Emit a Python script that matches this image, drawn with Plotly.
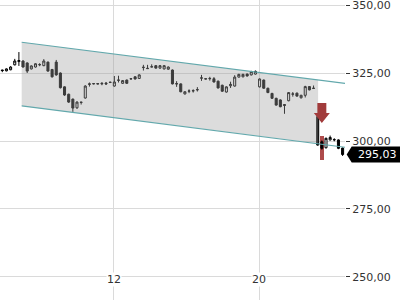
import plotly.graph_objects as go

# ---- data ----
opens = [326.1, 325.8, 326.2, 328.0, 329.2, 329.4, 328.7, 326.5, 327.2, 328.0,
         327.7, 329.0, 326.3, 329.0, 325.0, 319.9, 317.2, 315.4, 312.2, 314.3,
         315.8, 320.8, 321.0, 321.1, 321.0, 321.3, 321.5, 320.2, 322.3, 321.2,
         322.4, 322.8, 323.6, 323.0, 327.0, 326.6, 327.2, 327.7, 326.8, 326.5,
         326.4, 326.1, 321.1, 321.0, 317.3, 318.3, 318.4, 318.8, 323.1, 322.9,
         322.9, 322.9, 322.0, 320.5, 318.0, 320.3, 320.2, 323.5, 323.6, 324.6,
         324.3, 324.6, 319.9, 322.4, 319.4, 317.5, 315.7, 315.1, 313.4, 314.8,
         317.2, 317.6, 315.9, 316.8, 320.0, 319.3, 309.0, 299.7, 297.5, 300.4,
         300.4, 300.4, 297.4]
highs = [326.2, 326.7, 327.5, 330.2, 332.7, 329.7, 328.9, 327.8, 328.6, 328.6,
         330.1, 329.2, 326.5, 329.8, 325.2, 320.1, 317.4, 315.6, 314.6, 314.4,
         320.5, 321.5, 321.3, 321.3, 321.6, 321.7, 321.8, 323.9, 324.0, 322.4,
         322.6, 323.1, 323.8, 324.5, 328.0, 328.0, 328.2, 327.9, 327.9, 327.9,
         327.4, 326.3, 322.0, 321.2, 318.3, 319.0, 319.0, 319.8, 324.3, 323.0,
         323.6, 323.5, 322.2, 320.7, 320.1, 321.8, 324.2, 324.7, 324.7, 324.8,
         325.8, 325.9, 323.0, 322.6, 319.6, 317.7, 315.9, 315.3, 313.6, 318.0,
         318.0, 317.8, 317.0, 320.3, 320.2, 320.4, 309.6, 300.2, 301.2, 302.0,
         301.0, 300.6, 297.6]
lows = [325.3, 325.6, 326.0, 327.8, 327.6, 327.0, 325.0, 326.3, 327.0, 327.5,
        327.5, 325.5, 323.3, 324.0, 319.3, 316.6, 314.0, 310.7, 311.8, 313.4,
        315.6, 320.0, 320.8, 320.8, 320.5, 320.6, 321.3, 320.0, 321.5, 321.0,
        321.0, 322.6, 322.6, 322.8, 325.9, 326.5, 327.1, 326.6, 326.6, 326.3,
        326.2, 320.8, 319.9, 317.9, 317.1, 317.6, 317.8, 318.2, 322.1, 322.7,
        322.2, 321.5, 319.3, 318.1, 317.8, 319.5, 320.0, 323.3, 323.4, 323.7,
        324.1, 324.4, 319.7, 319.2, 317.6, 315.5, 313.0, 312.4, 310.0, 314.6,
        316.3, 316.3, 315.6, 316.0, 318.6, 319.2, 298.3, 296.8, 297.3, 300.2,
        299.9, 297.0, 294.5]
closes = [325.9, 326.5, 327.2, 329.4, 329.6, 327.2, 325.7, 327.6, 328.4, 328.1,
          329.4, 325.7, 323.6, 324.3, 319.6, 316.9, 314.3, 312.1, 314.3, 314.2,
          320.2, 321.0, 321.1, 321.0, 321.2, 321.0, 321.6, 321.7, 322.4, 322.2,
          321.2, 322.9, 322.8, 324.3, 327.1, 326.7, 327.3, 326.8, 327.7, 327.7,
          327.2, 321.0, 321.0, 318.1, 318.1, 318.4, 318.5, 318.9, 323.2, 322.8,
          323.0, 321.7, 319.5, 318.3, 319.9, 320.8, 323.5, 324.5, 324.5, 323.9,
          325.5, 325.6, 322.8, 319.4, 317.8, 315.7, 313.2, 312.6, 313.1, 317.8,
          317.3, 316.5, 316.8, 320.0, 318.8, 319.4, 298.5, 297.3, 301.0, 301.3,
          300.5, 297.3, 295.03]
candle_index = list(range(len(closes)))

tick_positions = [26.9, 61.9]
tick_labels = ["12", "20"]
price_ticks = [250, 275, 300, 325, 350]

# trend channel (index, price)
channel_x = [4.67, 82.58]
channel_upper = [336.3, 321.2]
channel_lower = [312.9, 297.7]
fill_x = [4.67, 76.1]
fill_upper = [336.3, 322.47]
fill_lower = [312.9, 299.04]

# sell signal
signal_index = 77
signal_low = 293.0
signal_high = 301.8
arrow_top = 314.0
arrow_neck = 310.3
arrow_tip = 306.6

# ---- styles ----
GRID = "#dadada"
TEAL = "#62a8ac"
RED = "#a13b3b"
FONT = "DejaVu Sans"
shaft_hw = 1.08
head_hw = 1.93

fig = go.Figure()

# channel fill
fig.add_trace(go.Scatter(
    x=[fill_x[0], fill_x[1], fill_x[1], fill_x[0], fill_x[0]],
    y=[fill_upper[0], fill_upper[1], fill_lower[1], fill_lower[0], fill_upper[0]],
    mode="lines", fill="toself", fillcolor="rgba(160,160,160,0.37)",
    line=dict(width=0), hoverinfo="skip"))
# channel lines
fig.add_trace(go.Scatter(x=channel_x, y=channel_upper, mode="lines",
                         line=dict(color=TEAL, width=1.2), hoverinfo="skip"))
fig.add_trace(go.Scatter(x=channel_x, y=channel_lower, mode="lines",
                         line=dict(color=TEAL, width=1.2), hoverinfo="skip"))

# signal bar behind candle
fig.add_trace(go.Bar(x=[signal_index], y=[signal_high - signal_low], base=[signal_low],
                     width=[1.0], marker=dict(color="rgba(165,55,55,0.9)", line=dict(width=0)),
                     hoverinfo="skip"))

# candles
fig.add_trace(go.Candlestick(
    x=candle_index, open=opens, high=highs, low=lows, close=closes,
    increasing=dict(fillcolor="white", line=dict(color="black", width=1)),
    decreasing=dict(fillcolor="black", line=dict(color="black", width=1)),
    whiskerwidth=0, hoverinfo="skip"))

# arrow
ax = [signal_index - shaft_hw, signal_index + shaft_hw, signal_index + shaft_hw,
      signal_index + head_hw, signal_index, signal_index - head_hw,
      signal_index - shaft_hw, signal_index - shaft_hw]
ay = [arrow_top, arrow_top, arrow_neck, arrow_neck, arrow_tip, arrow_neck,
      arrow_neck, arrow_top]
fig.add_trace(go.Scatter(x=ax, y=ay, mode="lines", fill="toself", fillcolor=RED,
                         line=dict(width=0, color=RED), hoverinfo="skip"))

last = closes[-1]
half_h = 2.94
fig.add_shape(type="path", xref="paper", yref="y",
              path=(f"M 1.0049,{last} L 1.0194,{last + half_h} L 1.2,{last + half_h} "
                    f"L 1.2,{last - half_h} L 1.0194,{last - half_h} Z"),
              fillcolor="black", line=dict(width=0), layer="above")
fig.add_annotation(x=1.0319, xref="paper", y=last, yref="y", xanchor="left",
                   yanchor="middle", showarrow=False,
                   text=f"{last:.2f}".replace(".", ","),
                   font=dict(family=FONT, size=11, color="white"))

for pos, lab in zip(tick_positions, tick_labels):
    fig.add_annotation(x=pos, xref="x", y=1 - 287 / 300, yref="paper",
                       text=lab, showarrow=False, bgcolor="white", borderpad=0,
                       font=dict(family=FONT, size=11, color="#333"))

fig.update_layout(
    width=400, height=300, margin=dict(l=0, r=55, t=0, b=0),
    paper_bgcolor="white", plot_bgcolor="white", showlegend=False,
    separators=",.", font=dict(family=FONT, size=11, color="#333"),
    bargap=0,
)
fig.update_xaxes(range=[-0.554, 82.58], tickvals=tick_positions, showticklabels=False,
                 showgrid=True, gridcolor=GRID, gridwidth=1, zeroline=False,
                 showline=False, ticks="", rangeslider=dict(visible=False))
fig.update_yaxes(side="right", range=[241.54, 351.84], tickvals=price_ticks,
                 tickformat=".2f", ticks="outside", ticklen=4, tickcolor="#333",
                 ticklabeloverflow="allow",
                 showgrid=True, gridcolor=GRID, gridwidth=1, zeroline=False,
                 showline=False, tickfont=dict(family=FONT, size=11, color="#333"))

fig.write_html("out.html")
